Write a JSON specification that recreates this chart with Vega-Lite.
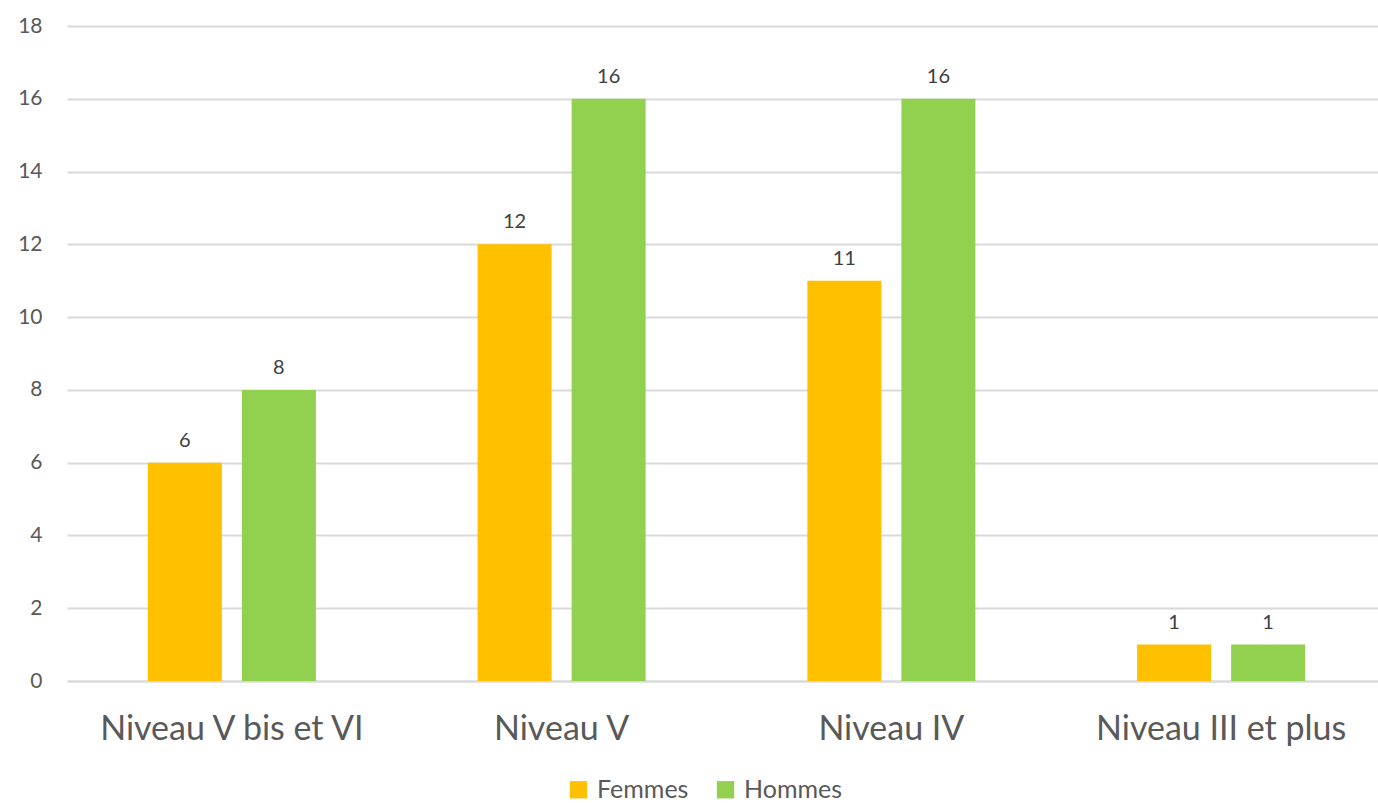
{
  "$schema": "https://vega.github.io/schema/vega-lite/v6.json",
  "width": 1319,
  "height": 655,
  "autosize": {"type": "none"},
  "padding": {"left": 67, "top": 26, "right": 0, "bottom": 122},
  "background": "white",
  "config": {"view": {"stroke": null}, "font": "Lato"},
  "data": {
    "values": [
      {"niveau": "Niveau V bis et VI", "sexe": "Femmes", "n": 6},
      {"niveau": "Niveau V bis et VI", "sexe": "Hommes", "n": 8},
      {"niveau": "Niveau V", "sexe": "Femmes", "n": 12},
      {"niveau": "Niveau V", "sexe": "Hommes", "n": 16},
      {"niveau": "Niveau IV", "sexe": "Femmes", "n": 11},
      {"niveau": "Niveau IV", "sexe": "Hommes", "n": 16},
      {"niveau": "Niveau III et plus", "sexe": "Femmes", "n": 1},
      {"niveau": "Niveau III et plus", "sexe": "Hommes", "n": 1}
    ]
  },
  "encoding": {
    "x": {
      "field": "niveau", "type": "nominal", "sort": null,
      "scale": {"paddingInner": 0, "paddingOuter": 0},
      "axis": {"title": null, "labelAngle": 0, "labelFontSize": 34, "labelColor": "#595959", "labelLimit": 0,
               "labelPadding": 31, "ticks": false, "domain": true, "domainColor": "#D9D9D9", "domainWidth": 2}
    },
    "xOffset": {"field": "sexe", "type": "nominal", "scale": {"paddingInner": 0.213, "paddingOuter": 0.86}},
    "y": {
      "field": "n", "type": "quantitative",
      "scale": {"domain": [0, 18]},
      "axis": {"title": null, "values": [0,2,4,6,8,10,12,14,16,18], "labelFontSize": 21, "labelColor": "#595959",
               "labelPadding": 25, "ticks": false, "domain": false, "gridColor": "#D9D9D9", "gridWidth": 2}
    }
  },
  "layer": [
    {
      "mark": {"type": "bar"},
      "encoding": {
        "color": {
          "field": "sexe", "type": "nominal",
          "scale": {"domain": ["Femmes", "Hommes"], "range": ["#FFC000", "#92D050"]},
          "legend": {"title": null, "orient": "none", "legendX": 499, "legendY": 751, "direction": "horizontal", "symbolType": "square",
                     "symbolSize": 300, "symbolStrokeWidth": 0, "labelFontSize": 25, "labelColor": "#595959",
                     "columnPadding": 24, "labelOffset": 6}
        }
      }
    },
    {
      "mark": {"type": "text", "baseline": "bottom", "dy": -12, "fontSize": 20, "color": "#404040"},
      "encoding": {"text": {"field": "n", "type": "quantitative"}}
    }
  ]
}
